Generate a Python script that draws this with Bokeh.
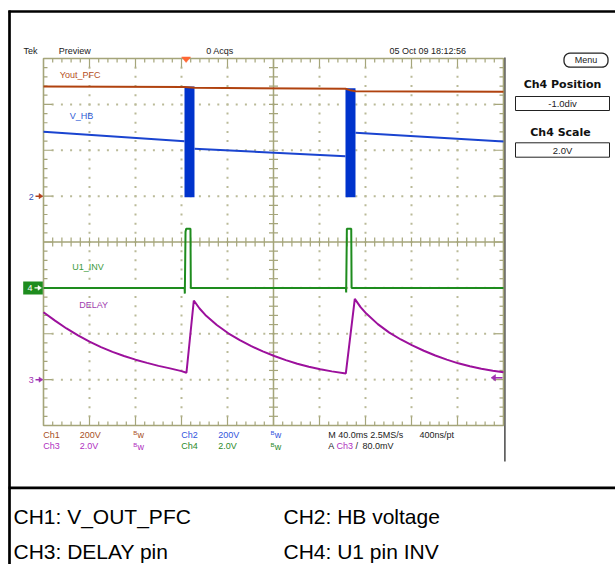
import math
import numpy as np
from bokeh.plotting import figure
from bokeh.models import Label
from bokeh.embed import file_html
from bokeh.resources import INLINE

nan = float("nan")

# ---------------- data read from the scope capture ----------------
# time in ms from the left edge of the screen (40 ms/div, 10 div)
# CH1 V_OUT_PFC : 200 V/div, ground marker at +1 div
ch1_time = [0, 122.6, 131.3, 262.6, 266.5, 271.3, 400]
ch1_volt = [478, 475.6, 472.5, 467.9, 462.0, 457.5, 454.8]

# CH2 HB voltage : 200 V/div, ground marker at +1 div (NaN = gap)
ch2_time = [0, 122.6, nan, 131.3, 262.6, nan, 271.3, 400]
ch2_volt = [280.5, 239.5, nan, 206.3, 174.1, nan, 276.1, 238.1]
# switching bursts of the half bridge (filled envelope)
ch2_burst_start = [122.6, 262.6]
ch2_burst_end = [131.3, 271.3]
ch2_burst_low = [-5, -5]
ch2_burst_high = [478, 470]

# CH3 DELAY pin : 2 V/div, ground marker at -3 div
ch3_time = [0, 10, 20, 30, 40, 50, 60, 70, 80, 90, 100, 110, 120, 124.3,
            130.7, 135.7, 140.7, 150.7, 160.7, 170.7, 180.7, 190.7, 200.7, 210.7,
            220.7, 230.7, 240.7, 250.7, 262.9,
            270.7, 275.7, 280.7, 290.7, 300.7, 310.7, 320.7, 330.7, 340.7, 350.7,
            360.7, 370.7, 380.7, 390.7, 400]
ch3_volt = [2.94, 2.57, 2.23, 1.93, 1.66, 1.42, 1.21, 1.03, 0.87, 0.73, 0.60, 0.49, 0.37, 0.30,
            3.45, 3.10, 2.82, 2.38, 2.02, 1.72, 1.46, 1.23, 1.03, 0.85,
            0.69, 0.56, 0.45, 0.36, 0.27,
            3.52, 3.16, 2.88, 2.42, 2.05, 1.75, 1.49, 1.26, 1.05, 0.87,
            0.71, 0.58, 0.47, 0.39, 0.32]

# CH4 U1 pin INV : 2 V/div, ground marker at -1 div
ch4_time = [0, 122.7, 122.9, 123.5, 124.1, 127.8, 128.1, 263.0, 263.2, 263.8, 267.6, 267.9, 400]
ch4_volt = [0, 0, -0.25, 2.45, 2.58, 2.58, 0, 0, -0.2, 2.58, 2.58, 0, 0]

trigger_time = 124.0      # ms
trigger_level = 0.08      # V on CH3

# channel setup: (V/div, ground position in div)
ch1_scale, ch1_pos = 200, 1
ch2_scale, ch2_pos = 200, 1
ch3_scale, ch3_pos = 2, -3
ch4_scale, ch4_pos = 2, -1


def to_div(v, scale, pos):
    return [pos + x / scale for x in v]


# ---------------- geometry ----------------
W, H = 615, 564
PX_MS = 46 / 40.0       # px per ms
PX_DIV = 45.875         # px per vertical division
X0, Y0 = 43.0, 241.5    # page position of t=0 and of the centre line


def tx(px):
    return (px - X0) / PX_MS


def ty(py):
    return (Y0 - py) / PX_DIV


def pxx(t):
    return X0 + t * PX_MS


def pyy(d):
    return Y0 - d * PX_DIV


p = figure(width=W, height=H, x_range=(tx(0), tx(W)), y_range=(ty(H), ty(0)),
           min_border=0, toolbar_location=None, output_backend="svg",
           x_axis_type=None, y_axis_type=None)
p.outline_line_color = None
p.background_fill_color = "white"
p.border_fill_color = "white"

FONT = "Liberation Sans"
GRID = "#A5A57A"
DOT = "#BABA98"


def lab(px, py, text, color="#222222", size=9, bold=False, align="left", font=FONT):
    p.add_layout(Label(x=tx(px), y=ty(py), text=text, text_color=color,
                       text_font_size=f"{size}px", text_font=font,
                       text_font_style="bold" if bold else "normal",
                       text_align=align, text_baseline="middle"))


def seg_px(x0, y0, x1, y1, color, width):
    p.segment(x0=[tx(x0)], y0=[ty(y0)], x1=[tx(x1)], y1=[ty(y1)],
              line_color=color, line_width=width)


def tri_px(points, color):
    p.patch([tx(a) for a, b in points], [ty(b) for a, b in points],
            fill_color=color, line_color=color, line_width=0.5)


# ---------------- outer frame of the picture ----------------
seg_px(9.0, 10, 9.0, 564, "black", 2.7)
seg_px(8, 11.0, 615, 11.0, "black", 2.7)
seg_px(8, 487.3, 615, 487.3, "black", 2.7)
seg_px(504.4, 57, 504.4, 461, "#3A3A3A", 1.4)

# ---------------- graticule ----------------
minor_x = np.arange(8, 400, 8.0)
minor_y = np.round(np.arange(-3.8, 4.0, 0.2), 6)
div_x = np.arange(40, 400, 40.0)
div_y = np.arange(-3, 4, 1.0)

# dotted division lines
dx, dy = [], []
for yv in div_y:
    if yv == 0:
        continue
    dx += list(minor_x)
    dy += [yv] * len(minor_x)
for xv in div_x:
    if xv == 200:
        continue
    dx += [xv] * len(minor_y)
    dy += list(minor_y)
p.scatter(dx, dy, marker="square", size=2, fill_color=DOT, line_color=None)

# frame and centre lines
p.quad(left=[0], right=[400], bottom=[-4], top=[4], fill_color=None,
       line_color=GRID, line_width=1.6)
p.segment(x0=[0, 200], y0=[0, -4], x1=[400, 200], y1=[0, 4], line_color=GRID, line_width=1.5)

# ticks
tx0, ty0, tx1, ty1 = [], [], [], []
for xv in minor_x:
    L = 9 if xv % 40 == 0 else 4
    tx0 += [xv, xv]; ty0 += [4, -4]
    tx1 += [xv, xv]; ty1 += [4 - L / PX_DIV, -4 + L / PX_DIV]
    if xv != 200:
        tx0.append(xv); ty0.append(-4.5 / PX_DIV); tx1.append(xv); ty1.append(4.5 / PX_DIV)
for yv in minor_y:
    L = 9 if abs(yv - round(yv)) < 1e-6 else 4
    tx0 += [0, 400]; ty0 += [yv, yv]
    tx1 += [L / PX_MS, 400 - L / PX_MS]; ty1 += [yv, yv]
    if abs(yv) > 1e-6:
        tx0.append(200 - 4.5 / PX_MS); ty0.append(yv); tx1.append(200 + 4.5 / PX_MS); ty1.append(yv)
p.segment(x0=tx0, y0=ty0, x1=tx1, y1=ty1, line_color=GRID, line_width=1.2)

# ---------------- waveforms ----------------
C1, C2, C3, C4 = "#B0420F", "#1A44D0", "#9C109C", "#1E8C1E"
p.quad(left=ch2_burst_start, right=ch2_burst_end,
       bottom=to_div(ch2_burst_low, ch2_scale, ch2_pos),
       top=to_div(ch2_burst_high, ch2_scale, ch2_pos),
       fill_color="#0033CC", line_color=None)
p.line(ch2_time, to_div(ch2_volt, ch2_scale, ch2_pos), line_color=C2, line_width=2)
p.line(ch1_time, to_div(ch1_volt, ch1_scale, ch1_pos), line_color=C1, line_width=2)
p.line(ch4_time, to_div(ch4_volt, ch4_scale, ch4_pos), line_color=C4, line_width=2)
p.line(ch3_time, to_div(ch3_volt, ch3_scale, ch3_pos), line_color=C3, line_width=2)

# channel names on screen
lab(59.3, 74.3, "Yout_PFC", "#B5501E")
lab(69.3, 115.7, "V_HB", "#2E5BD6")
lab(71.7, 266, "U1_INV", "#3C9A3C")
lab(78.7, 304.3, "DELAY", "#A040B0")

# ground markers on the left
g2 = pyy(ch2_pos)
lab(28.3, g2 + 0.5, "2", "#3355BB")
seg_px(35, g2, 39.5, g2, "#B0401A", 1.5)
tri_px([(38.5, g2 - 2.6), (42.5, g2), (38.5, g2 + 2.6)], "#B0401A")

g4 = pyy(ch4_pos)
p.quad(left=[tx(22.7)], right=[tx(42.3)], top=[ty(g4 - 6.5)], bottom=[ty(g4 + 6.5)],
       fill_color="#1E8C1E", line_color=None)
lab(27.0, g4 + 0.5, "4", "white")
seg_px(34, g4, 38.5, g4, "white", 1.3)
tri_px([(37.5, g4 - 2.4), (41, g4), (37.5, g4 + 2.4)], "white")

g3 = pyy(ch3_pos)
lab(28.3, g3 + 0.5, "3", "#A030B0")
seg_px(35, g3, 39.5, g3, "#A030B0", 1.5)
tri_px([(38.5, g3 - 2.6), (42.5, g3), (38.5, g3 + 2.6)], "#A030B0")

# trigger position (top) and trigger level (right)
tpx = pxx(trigger_time)
tri_px([(tpx - 4.5, 56.5), (tpx + 4.5, 56.5), (tpx, 62)], "#FF6633")
tly = pyy(ch3_pos + trigger_level / ch3_scale)
tri_px([(490.5, tly), (495, tly - 3.2), (495, tly + 3.2)], "#A030B0")
seg_px(494, tly, 502, tly, "#A030B0", 1.6)

# ---------------- header ----------------
lab(23, 50.7, "Tek")
lab(58.3, 50.7, "Preview")
lab(205.7, 50.7, "0 Acqs")
lab(389, 50.7, "05 Oct 09 18:12:56")

# ---------------- side menu ----------------
def rounded(x0, y0, x1, y1, r):
    pts = []
    for cx, cy, a0 in [(x1 - r, y0 + r, -90), (x1 - r, y1 - r, 0), (x0 + r, y1 - r, 90), (x0 + r, y0 + r, 180)]:
        for k in range(7):
            a = math.radians(a0 + 15 * k)
            pts.append((cx + r * math.cos(a), cy + r * math.sin(a)))
    return pts


mpts = rounded(563.5, 52.7, 607.5, 66.7, 6)
p.patch([tx(a) for a, b in mpts], [ty(b) for a, b in mpts], fill_color="white",
        line_color="#222222", line_width=1.3)
lab(585.5, 59.7, "Menu", size=9, align="center")

lab(562, 84.3, "Ch4 Position", "#111111", size=11, bold=True, align="center", font="DejaVu Sans")
p.quad(left=[tx(515)], right=[tx(609)], top=[ty(96)], bottom=[ty(110)],
       fill_color="white", line_color="#222222", line_width=1)
lab(562, 103.3, "-1.0div", size=9.5, align="center")

lab(560, 131.7, "Ch4 Scale", "#111111", size=11, bold=True, align="center", font="DejaVu Sans")
p.quad(left=[tx(515)], right=[tx(609)], top=[ty(142.3)], bottom=[ty(156.7)],
       fill_color="white", line_color="#222222", line_width=1)
lab(562, 149.7, "2.0V", size=9.5, align="center")

# ---------------- status lines ----------------
R1, R2 = 434.3, 445.7
B1, B2, B3, B4 = "#A8501E", "#3355DD", "#B030C0", "#2A8A2A"


def bw(px, py, color):
    lab(px, py - 1.5, "B", color, size=6)
    lab(px + 4.2, py + 0.3, "w", color, size=9)


lab(42.7, R1, "Ch1", B1); lab(79.3, R1, "200V", B1); bw(132.7, R1, B1)
lab(180.7, R1, "Ch2", B2); lab(217.7, R1, "200V", B2); bw(270, R1, B2)
lab(327.7, R1, "M 40.0ms 2.5MS/s"); lab(419, R1, "400ns/pt")
lab(42.7, R2, "Ch3", B3); lab(79.3, R2, "2.0V", B3); bw(132.7, R2, B3)
lab(180.7, R2, "Ch4", B4); lab(217.7, R2, "2.0V", B4); bw(270, R2, B4)
lab(327.7, R2, "A"); lab(336, R2, "Ch3", B3); lab(355, R2, "/"); lab(362, R2, "80.0mV")

# ---------------- caption ----------------
lab(13, 515.5, "CH1: V_OUT_PFC", "black", size=21)
lab(283, 515.5, "CH2: HB voltage", "black", size=21)
lab(13, 550.5, "CH3: DELAY pin", "black", size=21)
lab(283, 550.5, "CH4: U1 pin INV", "black", size=21)

open("out.html", "w").write(file_html(p, INLINE))
